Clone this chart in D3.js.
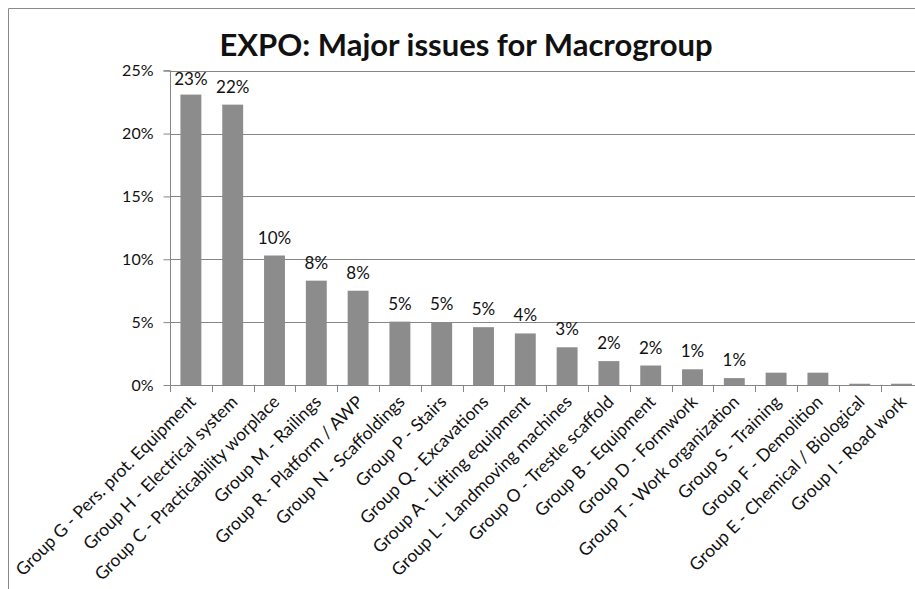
<!DOCTYPE html>
<html>
<head>
<meta charset="utf-8">
<script src="https://cdn.jsdelivr.net/npm/d3@7"></script>
<style>
  body { margin: 0; background: #fff; }
  svg text { font-family: Lato, "Open Sans", sans-serif; fill: #111; }
</style>
</head>
<body>
<div id="graph"></div>
<script>
// datos
var categories = [
  "Group G - Pers. prot. Equipment",
  "Group H - Electrical system",
  "Group C - Practicability worplace",
  "Group M - Railings",
  "Group R - Platform / AWP",
  "Group N - Scaffoldings",
  "Group P - Stairs",
  "Group Q - Excavations",
  "Group A - Lifting equipment",
  "Group L - Landmoving machines",
  "Group O - Trestle scaffold",
  "Group B - Equipment",
  "Group D - Formwork",
  "Group T - Work organization",
  "Group S - Training",
  "Group F - Demolition",
  "Group E - Chemical / Biological",
  "Group I - Road work"
];
var values = [0.231, 0.223, 0.103, 0.083, 0.075, 0.0504, 0.050, 0.046, 0.041, 0.030,
              0.019, 0.0155, 0.0125, 0.0055, 0.0098, 0.0098, 0.001, 0.001];
var dataLabels = ["23%", "22%", "10%", "8%", "8%", "5%", "5%", "5%", "4%", "3%",
                  "2%", "2%", "1%", "1%", "", "", "", ""];
var yTicks = [0, 0.05, 0.10, 0.15, 0.20, 0.25];
var title = "EXPO: Major issues for Macrogroup";

var width = 915, height = 589;
var data = categories.map((c, i) => ({cat: c, val: values[i], lab: dataLabels[i]}));

var svg = d3.select("#graph").append("svg")
  .attr("width", width)
  .attr("height", height);

// marco
svg.append("path")
  .attr("d", "M8.5," + height + "V8.5H" + width)
  .attr("fill", "none")
  .attr("stroke", "#8a8a8a");

var xScale = d3.scaleBand()
  .domain(categories)
  .range([170, 922.4])
  .paddingInner(0.5)
  .paddingOuter(0.25);

var yScale = d3.scaleLinear()
  .domain([0, 0.25])
  .range([385, 70.7]);

// lineas de grilla
svg.append("g")
  .selectAll("line")
  .data(yTicks.slice(1))
  .join("line")
  .attr("x1", 170)
  .attr("x2", width)
  .attr("y1", d => Math.round(yScale(d)) + 0.5)
  .attr("y2", d => Math.round(yScale(d)) + 0.5)
  .attr("stroke", "#868686");

// barras
svg.append("g")
  .selectAll("rect")
  .data(data)
  .join("rect")
  .attr("x", d => xScale(d.cat))
  .attr("width", xScale.bandwidth())
  .attr("y", d => yScale(d.val))
  .attr("height", d => yScale(0) - yScale(d.val))
  .attr("fill", "#8c8c8c");

// eje Y
var yAxis = svg.append("g")
  .attr("transform", "translate(170.5,0)")
  .call(d3.axisLeft(yScale)
    .tickValues(yTicks)
    .tickSize(7)
    .tickPadding(10)
    .tickFormat(d3.format(".0%")));
yAxis.select(".domain").attr("stroke", "#868686").attr("d", "M-7,70.7H0V385.5");
yAxis.selectAll(".tick line").attr("stroke", "#868686");
yAxis.selectAll(".tick text").style("font-size", "16px").attr("fill", "#111");

// eje X
var step = xScale.step();
svg.append("line")
  .attr("x1", 170).attr("x2", width)
  .attr("y1", 385.5).attr("y2", 385.5)
  .attr("stroke", "#868686");
svg.append("g")
  .selectAll("line")
  .data(categories)
  .join("line")
  .attr("x1", d => Math.round(xScale(d) - step * 0.25) + 0.5)
  .attr("x2", d => Math.round(xScale(d) - step * 0.25) + 0.5)
  .attr("y1", 385)
  .attr("y2", 392)
  .attr("stroke", "#868686");

svg.append("g")
  .selectAll("text")
  .data(categories)
  .join("text")
  .attr("transform", d => "translate(" + (xScale(d) + xScale.bandwidth() / 2 + 6) + ",403) rotate(-45)")
  .attr("text-anchor", "end")
  .style("font-size", "17.5px")
  .text(d => d);

// etiquetas de datos
svg.append("g")
  .selectAll("text")
  .data(data.filter(d => d.lab !== ""))
  .join("text")
  .attr("x", d => xScale(d.cat) + xScale.bandwidth() / 2)
  .attr("y", d => Math.max(yScale(d.val) - 12, 85))
  .attr("text-anchor", "middle")
  .style("font-size", "17px")
  .text(d => d.lab);

// titulo
svg.append("text")
  .attr("x", 466)
  .attr("y", 56)
  .attr("text-anchor", "middle")
  .style("font-size", "31px")
  .style("font-weight", "bold")
  .text(title);
</script>
</body>
</html>
